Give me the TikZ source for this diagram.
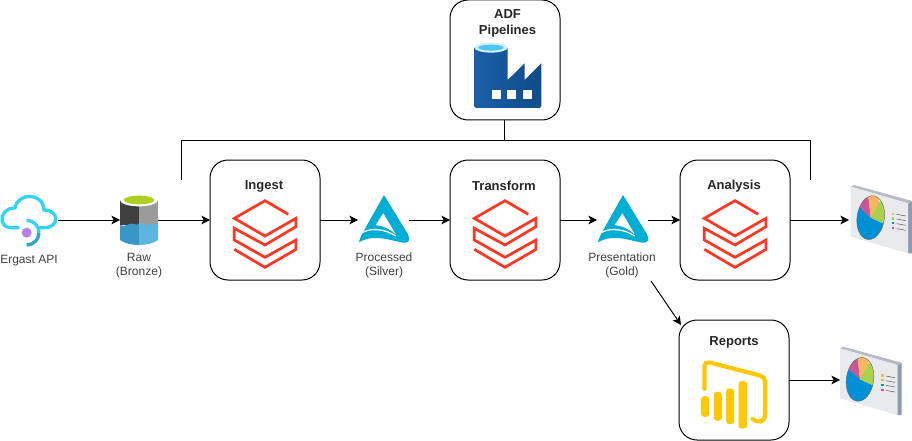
\documentclass[tikz,border=0pt]{standalone}
\usepackage{fontspec}
\setmainfont{Liberation Sans}
\usetikzlibrary{arrows.meta}
\definecolor{dbRed}{HTML}{FF3621}
\definecolor{lakeBlue}{HTML}{00ADD4}
\definecolor{biYellow}{HTML}{FFC800}
\definecolor{cloudBlue}{HTML}{32D4F5}
\definecolor{ringBlue}{HTML}{2EA7CC}
\definecolor{dotPurple}{HTML}{B77FE0}
\definecolor{rawGreen}{HTML}{B0D020}
\definecolor{rawDark}{HTML}{3F3F3F}
\definecolor{rawGrey}{HTML}{9B9B9B}
\definecolor{waterDark}{HTML}{3B96C8}
\definecolor{waterLight}{HTML}{5BB5DE}
\definecolor{adfDark}{HTML}{1A5FA8}
\definecolor{adfMid}{HTML}{0078D4}
\definecolor{adfRight}{HTML}{0F4C8A}
\definecolor{pieBlue}{HTML}{0090D5}
\definecolor{pieGreen}{HTML}{ABD04C}
\definecolor{pieOrange}{HTML}{FAB65F}
\definecolor{pieMagenta}{HTML}{CC5599}
\definecolor{screenFace}{HTML}{E8EAEE}
\definecolor{screenSide}{HTML}{8E9AB0}
\definecolor{screenTop}{HTML}{B8BCC4}
\tikzset{
  databricksIcon/.pic={
    \draw[dbRed, line width=2.7pt, scale=1/3, miter limit=10]
      (70,-59) -- (0,-100) -- (-92,-47) -- (0,6) -- (93,-47) -- (93,-22) -- (0,33)
      -- (-92,-17) -- (-92,18) -- (0,70) -- (93,18) -- (93,46) -- (0,100) -- (-92,46);
  },
  lakeIcon/.pic={
    \begin{scope}[scale=1/3]
      \fill[lakeBlue] (0,-75) -- (72,43) .. controls (82,60) and (72,70) .. (58,68)
        .. controls (20,62) and (-30,40) .. (-75,67)
        .. controls (-72,50) and (-65,45) .. (-62,35) -- cycle;
      \fill[white] (-2,-20) -- (35,42) .. controls (10,22) and (-5,18) .. (-25,15) -- cycle;
      \draw[white, line width=1.3pt] (-64,37) .. controls (-35,22) and (5,28) .. (35,48);
    \end{scope}
  },
  cylinderIcon/.pic={
    \begin{scope}[scale=1/3]
      \fill[rawDark] (-57,-60) rectangle (0,15);
      \fill[rawGrey] (0,-60) rectangle (57,15);
      \fill[white] (0,-60) ellipse[x radius=57, y radius=19];
      \fill[rawGreen] (0,-60) ellipse[x radius=46, y radius=13];
      \fill[waterDark] (-57,15) .. controls (-40,25) and (-30,5) .. (-15,12)
        .. controls (-8,16) and (-4,14) .. (0,10) -- (0,75) .. controls (-20,75) and (-45,70) .. (-57,60) -- cycle;
      \fill[waterLight] (0,10) .. controls (10,3) and (15,18) .. (30,15)
        .. controls (40,12) and (48,8) .. (57,12) -- (57,60) .. controls (45,70) and (20,75) .. (0,75) -- cycle;
    \end{scope}
  },
  factoryIcon/.pic={
    \begin{scope}[scale=1/3]
      \shade[left color=adfDark, middle color=adfMid, right color=adfRight]
        (-101,-83) -- (-101,92) -- (-96,98) -- (96,98) -- (101,92) -- (101,-36) -- (51,14) -- (51,-36) -- (0,14) -- (0,-83) -- cycle;
      \fill[cyan!18!white] (-50,-83) ellipse[x radius=50, y radius=15];
      \fill[cyan!70] (-50,-83) ellipse[x radius=38, y radius=9];
      \fill[white] (-48,44) rectangle (-21,71);
      \fill[white] (-1,44) rectangle (26,71);
      \fill[white] (47,44) rectangle (74,71);
    \end{scope}
  },
  powerbiIcon/.pic={
    \begin{scope}[scale=1/3]
      \draw[biYellow, line width=4.2pt, line cap=round, rounded corners=5pt]
        (-87,-14) -- (-87,-97) -- (95,-50) -- (95,62);
      \draw[biYellow, line width=4.2pt, line cap=round] (95,60) .. controls (95,88) and (72,90) .. (57,76);
      \fill[biYellow, rounded corners=3pt] (-97,8) rectangle (-73,70);
      \fill[biYellow, rounded corners=3pt] (-59,-5) rectangle (-35,82);
      \fill[biYellow, rounded corners=3pt] (-22,-15) rectangle (2,92);
      \fill[biYellow, rounded corners=3pt] (15,-37) rectangle (41,105);
    \end{scope}
  },
  cloudIcon/.pic={
    \begin{scope}[scale=1/3]
      \draw[cloudBlue, line width=3.3pt, line cap=round]
        (-32,23) -- (-56,23) .. controls (-92,22) and (-90,-36) .. (-42,-36)
        .. controls (-35,-82) and (42,-85) .. (45,-30)
        .. controls (92,-30) and (92,23) .. (46,23) -- (32,23);
      \draw[cloudBlue, line width=3.3pt] (-7,1) arc[x radius=37, y radius=37, start angle=-90, end angle=0];
      \draw[ringBlue, line width=3.3pt] (30,38) arc[x radius=37, y radius=37, start angle=0, end angle=90];
      \fill[dotPurple] (-7,38) circle[radius=15];
    \end{scope}
  },
  screenIcon/.pic={
    \begin{scope}[scale=1/3]
      \fill[screenSide] (82,-50) -- (95,-57) -- (95,100) -- (82,100) -- cycle;
      \fill[screenTop] (-90,-100) -- (-80,-105) -- (95,-57) -- (82,-50) -- cycle;
      \fill[screenFace] (-90,-100) -- (82,-50) -- (82,100) -- (-90,50) -- cycle;
      \begin{scope}
        \clip[rotate around={-8:(-30,-7)}] (-30,-7) ellipse[x radius=41, y radius=66];
        \fill[pieBlue] (-30,-7) -- (-70,-45) -- (-90,70) -- (30,70) -- (18,15) -- cycle;
        \fill[pieMagenta] (-30,-7) -- (-70,-45) -- (-60,-90) -- (-38,-80) -- cycle;
        \fill[pieOrange] (-30,-7) -- (-38,-80) -- (0,-90) -- (-5,-55) -- cycle;
        \fill[pieGreen] (-30,-7) -- (-5,-55) -- (30,-60) -- (30,20) -- (18,15) -- cycle;
      \end{scope}
      \draw[black!60, line width=0.4pt, rotate around={-8:(-30,-7)}] (-30,-7) ellipse[x radius=41, y radius=66];
      \fill[pieOrange] (34,-22) rectangle (41,-15);
      \fill[pieGreen] (34,-8) rectangle (41,-1);
      \fill[pieBlue] (34,6) rectangle (41,13);
      \fill[pieMagenta] (34,21) rectangle (41,28);
      \draw[black!65, line width=0.5pt] (48,-17) -- (75,-12);
      \draw[black!65, line width=0.5pt] (48,-3) -- (75,2);
      \draw[black!65, line width=0.5pt] (48,11) -- (75,16);
      \draw[black!65, line width=0.5pt] (48,26) -- (75,31);
    \end{scope}
  }
}
\begin{document}
\begin{tikzpicture}[x=1pt, y=-1pt,
  boxNode/.style={draw, rounded corners=18pt, line width=1pt, minimum width=110pt, minimum height=120pt, inner sep=0pt, outer sep=0pt},
  iconNode/.style={inner sep=0pt, outer sep=0pt, minimum height=50pt},
  titleNode/.style={inner sep=0pt, font=\fontsize{13}{16}\selectfont\bfseries, text=black!85, align=center},
  labelNode/.style={inner sep=0pt, font=\fontsize{12}{14}\selectfont, text=black!75, align=center},
  flow/.style={draw, line width=1pt, -{Stealth[length=8.5pt, width=8.5pt, inset=2pt]}},
  plain/.style={draw, line width=1pt}]
  \useasboundingbox (0,0) rectangle (912,441);

  \node[boxNode](adf) at (505, 60) {};
  \node[boxNode](ingest) at (265, 220) {};
  \node[boxNode](transform) at (505, 220) {};
  \node[boxNode](analysis) at (735, 220) {};
  \node[boxNode](reports) at (734, 380) {};

  \node[titleNode](adfTitle) at (507.5, 23) {ADF\\Pipelines};
  \node[titleNode](ingestTitle) at (264, 186.5) {Ingest};
  \node[titleNode](transformTitle) at (504, 186) {Transform};
  \node[titleNode](analysisTitle) at (734, 186) {Analysis};
  \node[titleNode](reportsTitle) at (734, 342.5) {Reports};

  \node[iconNode, minimum width=58pt](ergast) at (29, 220) {};
  \node[iconNode, minimum width=38pt](raw) at (139, 220) {};
  \node[iconNode, minimum width=51pt](processed) at (383.5, 220) {};
  \node[iconNode, minimum width=51pt](presentation) at (622.5, 220) {};
  \node[iconNode, minimum width=63pt](dashOne) at (880.5, 220) {};
  \node[iconNode, minimum width=62pt](dashTwo) at (871, 380) {};

  \pic at (29, 220) {cloudIcon};
  \pic at (139, 220) {cylinderIcon};
  \pic at (384, 220) {lakeIcon};
  \pic at (623, 220) {lakeIcon};
  \pic at (265, 234) {databricksIcon};
  \pic at (505, 234) {databricksIcon};
  \pic at (735, 234) {databricksIcon};
  \pic at (507.7, 75.3) {factoryIcon};
  \pic at (733.5, 393.5) {powerbiIcon};
  \pic at (880.7, 220) {screenIcon};
  \pic at (870, 381.7) {screenIcon};

  \node[labelNode](ergastLabel) at (29, 261) {Ergast API};
  \node[labelNode](rawLabel) at (139, 265.5) {Raw\\(Bronze)};
  \node[labelNode](processedLabel) at (384, 265) {Processed\\(Silver)};
  \node[labelNode](presentationLabel) at (622, 265) {Presentation\\(Gold)};

  \coordinate (pipeLeft) at (181, 180);
  \coordinate (pipeRight) at (810, 180);
  \coordinate (pipeTopLeft) at (181, 140);
  \coordinate (pipeTopRight) at (810, 140);
  \coordinate (pipeJoin) at (504, 140);
  \coordinate (adfOut) at (504, 120);
  \coordinate (goldOut) at (651, 281);
  \coordinate (reportsIn) at (681, 325);

  \draw[plain] (pipeLeft) -- (pipeTopLeft) -- (pipeTopRight) -- (pipeRight);
  \draw[plain] (adfOut) -- (pipeJoin);

  \draw[flow] (ergast) -- (raw);
  \draw[flow] (raw) -- (ingest);
  \draw[flow] (ingest) -- (processed);
  \draw[flow] (processed) -- (transform);
  \draw[flow] (transform) -- (presentation);
  \draw[flow] (presentation) -- (analysis);
  \draw[flow] (analysis) -- (dashOne);
  \draw[flow] (goldOut) -- (reportsIn);
  \draw[flow] (reports) -- (dashTwo);
\end{tikzpicture}
\end{document}
